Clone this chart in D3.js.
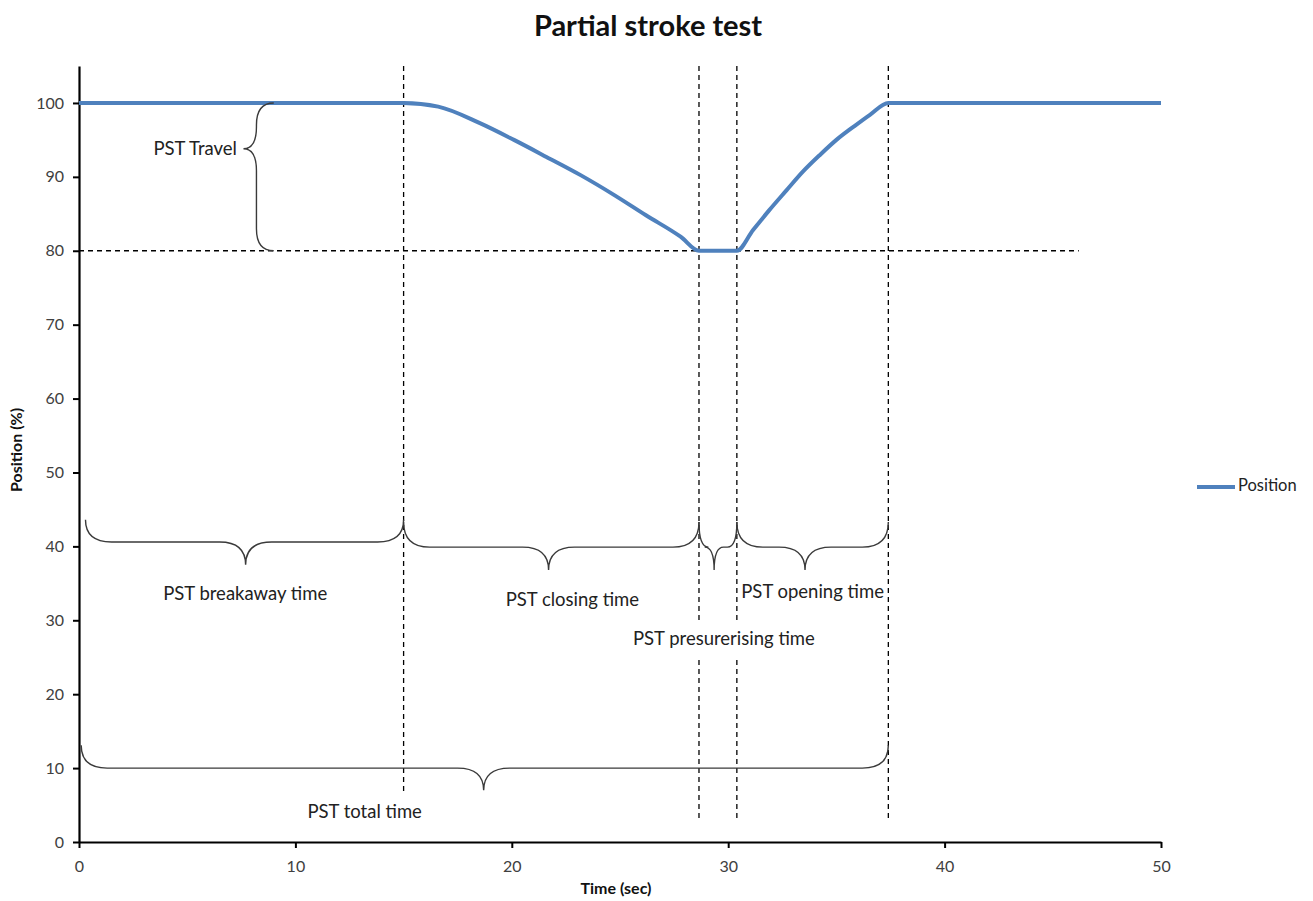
<!DOCTYPE html>
<html>
<head>
<meta charset="utf-8">
<script src="https://cdn.jsdelivr.net/npm/d3@7"></script>
<style>
  body { margin: 0; background: #fff; }
  svg { display: block; font-family: Lato, "Open Sans", sans-serif; }
</style>
</head>
<body>
<svg id="chart" width="1313" height="901"></svg>
<script>
// ---- data ----
const timeSec = [0, 15, 16.6, 18.5, 20.1, 21.6, 23.2, 24.7, 26.2, 27.8, 28.65, 30.4, 31.15, 31.9, 32.7, 33.45, 34.25, 35.0, 35.8, 36.55, 37.4, 50];
const positionPct = [100, 100, 99.5, 97.3, 95.0, 92.7, 90.2, 87.6, 84.8, 81.9, 80, 80, 82.8, 85.5, 88.2, 90.7, 93.0, 95.0, 96.8, 98.4, 100, 100];
const xTicks = [0, 10, 20, 30, 40, 50];
const yTicks = [0, 10, 20, 30, 40, 50, 60, 70, 80, 90, 100];
const seriesName = "Position";
const title = "Partial stroke test";
const xTitle = "Time (sec)";
const yTitle = "Position (%)";

// event markers (time, sec) and the lowest value of the dashed guides
const markerTimes = [15, 28.65, 30.4, 37.4];
const markerBottom = 2.7;
const travelLevel = 80;
const travelEnd = 46.2;

// braces along time: start, end, tip time, end level, mid level, tip level
const braceLabels = ["PST breakaway time", "PST closing time", "PST presurerising time", "PST opening time", "PST total time"];
const braceStart = [0.3, 15, 28.65, 30.4, 0.1];
const braceEnd = [15, 28.65, 30.4, 37.4, 37.4];
const braceTip = [7.7, 21.7, 29.35, 33.55, 18.7];
const braceEndLvl = [43.6, 43.3, 43.3, 43.3, 13.1];
const braceMidLvl = [40.6, 39.9, 39.9, 39.9, 10.0];
const braceTipLvl = [37.5, 36.8, 36.8, 36.8, 7.0];
const labelTime = [7.68, 22.8, 29.8, 33.9, 13.2];
const labelLvl = [33.4, 32.6, 27.3, 33.6, 3.9];

// vertical brace (PST travel)
const travelTop = 100, travelBottom = 80, travelTipLvl = 93.8;
const travelEndT = 9.0, travelMidT = 8.2, travelTipT = 7.6;
const travelLabel = "PST Travel";
const travelLabelT = 7.3, travelLabelLvl = 93.6;

// ---- layout ----
const svg = d3.select("#chart");
const x = d3.scaleLinear().domain([0, 50]).range([79, 1161]);
const y = d3.scaleLinear().domain([0, 105]).range([842, 66]);
const lineColor = "#4F81BD";
const inkColor = "#3a3a3a";
const opaqueLabels = new Set(["PST presurerising time", "PST total time"]);

// title
svg.append("text").attr("x", 648).attr("y", 36).attr("text-anchor", "middle")
  .attr("font-size", 29).attr("font-weight", "bold").attr("fill", "#111").text(title);

// axes
const xAxis = d3.axisBottom(x).tickValues(xTicks).tickSize(6).tickSizeOuter(0).tickPadding(13);
const yAxis = d3.axisLeft(y).tickValues(yTicks).tickSize(6).tickSizeOuter(0).tickPadding(9);
const gx = svg.append("g").attr("transform", "translate(0,842)").call(xAxis);
const gy = svg.append("g").attr("transform", "translate(79,0)").call(yAxis);
[gx, gy].forEach(g => {
  g.select(".domain").attr("stroke", "#000").attr("stroke-width", 2.2);
  g.selectAll(".tick line").attr("stroke", "#000").attr("stroke-width", 2);
  g.selectAll(".tick text").attr("font-size", 16).attr("fill", "#404040")
    .attr("font-family", "Lato, sans-serif");
});

// axis titles
svg.append("text").attr("x", 616).attr("y", 894).attr("text-anchor", "middle")
  .attr("font-size", 16).attr("font-weight", "bold").attr("fill", "#111").text(xTitle);
svg.append("text").attr("transform", "translate(22,450) rotate(-90)").attr("text-anchor", "middle")
  .attr("font-size", 16).attr("font-weight", "bold").attr("fill", "#111").text(yTitle);

// dashed guides
const dash = "5,4";
svg.append("line").attr("x1", x(0)).attr("x2", x(travelEnd)).attr("y1", y(travelLevel)).attr("y2", y(travelLevel))
  .attr("stroke", "#000").attr("stroke-width", 1.3).attr("stroke-dasharray", dash);
svg.selectAll(".vguide").data(markerTimes).join("line").attr("class", "vguide")
  .attr("x1", d => x(d)).attr("x2", d => x(d))
  .attr("y1", y(105)).attr("y2", y(markerBottom))
  .attr("stroke", "#000").attr("stroke-width", 1.3).attr("stroke-dasharray", dash);

// series line
const pts = timeSec.map((t, i) => [t, positionPct[i]]);
svg.append("path").datum(pts)
  .attr("d", d3.line().curve(d3.curveMonotoneX).x(d => x(d[0])).y(d => y(d[1])))
  .attr("fill", "none").attr("stroke", lineColor).attr("stroke-width", 4).attr("stroke-linejoin", "round");

// horizontal braces
function hBrace(x1, x2, xt, ye, ym, yt) {
  const r = Math.min(26, (x2 - x1) / 4);
  const p = d3.path();
  p.moveTo(x1, ye);
  p.quadraticCurveTo(x1, ym, x1 + r, ym);
  p.lineTo(xt - r, ym);
  p.quadraticCurveTo(xt, ym, xt, yt);
  p.quadraticCurveTo(xt, ym, xt + r, ym);
  p.lineTo(x2 - r, ym);
  p.quadraticCurveTo(x2, ym, x2, ye);
  return p.toString();
}
braceLabels.forEach((lab, i) => {
  svg.append("path")
    .attr("d", hBrace(x(braceStart[i]), x(braceEnd[i]), x(braceTip[i]), y(braceEndLvl[i]), y(braceMidLvl[i]), y(braceTipLvl[i])))
    .attr("fill", "none").attr("stroke", inkColor).attr("stroke-width", 1.4);
  const g = svg.append("g");
  const bg = g.append("rect").attr("fill", "#fff");
  const t = g.append("text").attr("x", x(labelTime[i])).attr("y", y(labelLvl[i])).attr("text-anchor", "middle")
    .attr("dominant-baseline", "middle").attr("font-size", 18.5).attr("fill", "#222").text(lab);
  if (opaqueLabels.has(lab)) {
    const w = t.node().getComputedTextLength() + 16;
    bg.attr("x", x(labelTime[i]) - w / 2).attr("y", y(labelLvl[i]) - 19).attr("width", w).attr("height", 38);
  } else {
    bg.remove();
  }
});

// vertical brace
(function () {
  const xe = x(travelEndT), xm = x(travelMidT), xt = x(travelTipT);
  const y1 = y(travelTop), y2 = y(travelBottom), yt = y(travelTipLvl);
  const r = 22;
  const p = d3.path();
  p.moveTo(xe, y1);
  p.quadraticCurveTo(xm, y1, xm, y1 + r);
  p.lineTo(xm, yt - r);
  p.quadraticCurveTo(xm, yt, xt, yt);
  p.quadraticCurveTo(xm, yt, xm, yt + r);
  p.lineTo(xm, y2 - r);
  p.quadraticCurveTo(xm, y2, xe, y2);
  svg.append("path").attr("d", p.toString()).attr("fill", "none").attr("stroke", inkColor).attr("stroke-width", 1.4);
  svg.append("text").attr("x", x(travelLabelT)).attr("y", y(travelLabelLvl)).attr("text-anchor", "end")
    .attr("dominant-baseline", "middle").attr("font-size", 18.5).attr("fill", "#222").text(travelLabel);
})();

// legend
svg.append("line").attr("x1", 1197).attr("x2", 1235).attr("y1", 487).attr("y2", 487)
  .attr("stroke", lineColor).attr("stroke-width", 4);
svg.append("text").attr("x", 1238).attr("y", 487).attr("dominant-baseline", "middle")
  .attr("font-size", 16.5).attr("fill", "#222").text(seriesName);
</script>
</body>
</html>
